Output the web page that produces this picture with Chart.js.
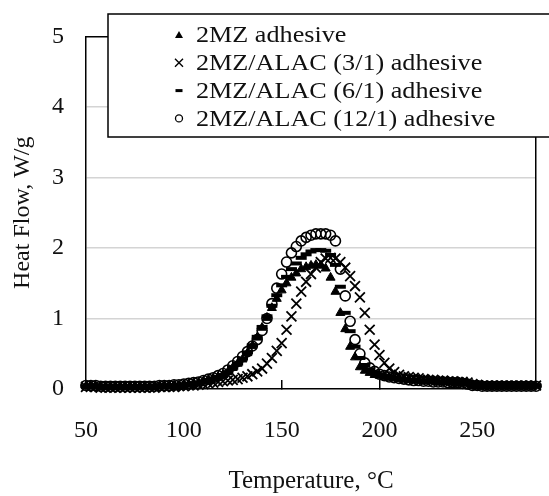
<!DOCTYPE html>
<html>
<head>
<meta charset="utf-8">
<script src="https://cdn.jsdelivr.net/npm/chart.js@4.4.0/dist/chart.umd.min.js"></script>
<style>
  html, body { margin: 0; padding: 0; background: #fff; overflow: hidden; }
  canvas { display: block; }
</style>
</head>
<body>
<canvas id="dscChart" width="549" height="496"></canvas>
<script>
// temperatures (°C) shared by all four DSC runs
const temps = [
    50, 52.5, 55, 57.5, 60, 62.5, 65, 67.5, 70, 72.5,
    75, 77.5, 80, 82.5, 85, 87.5, 90, 92.5, 95, 97.5,
    100, 102.5, 105, 107.5, 110, 112.5, 115, 117.5, 120, 122.5,
    125, 127.5, 130, 132.5, 135, 137.5, 140, 142.5, 145, 147.5,
    150, 152.5, 155, 157.5, 160, 162.5, 165, 167.5, 170, 172.5,
    175, 177.5, 180, 182.5, 185, 187.5, 190, 192.5, 195, 197.5,
    200, 202.5, 205, 207.5, 210, 212.5, 215, 217.5, 220, 222.5,
    225, 227.5, 230, 232.5, 235, 237.5, 240, 242.5, 245, 247.5,
    250, 252.5, 255, 257.5, 260, 262.5, 265, 267.5, 270, 272.5,
    275, 277.5, 280
];

// heat flow (W/g)
const flow2MZ = [
    0.04, 0.04, 0.04, 0.03, 0.03, 0.03, 0.03, 0.03, 0.03, 0.03,
    0.03, 0.03, 0.03, 0.03, 0.03, 0.04, 0.04, 0.04, 0.05, 0.05,
    0.06, 0.07, 0.08, 0.09, 0.11, 0.13, 0.15, 0.17, 0.20, 0.24,
    0.30, 0.36, 0.42, 0.51, 0.61, 0.73, 0.87, 1.01, 1.15, 1.28,
    1.40, 1.50, 1.58, 1.64, 1.70, 1.73, 1.75, 1.76, 1.75, 1.71,
    1.58, 1.38, 1.08, 0.85, 0.60, 0.45, 0.31, 0.26, 0.23, 0.20,
    0.19, 0.17, 0.16, 0.15, 0.14, 0.135, 0.13, 0.12, 0.12, 0.115,
    0.11, 0.11, 0.10, 0.10, 0.10, 0.09, 0.09, 0.09, 0.08, 0.06,
    0.05, 0.05, 0.04, 0.04, 0.04, 0.04, 0.04, 0.04, 0.04, 0.04,
    0.04, 0.04, 0.04
];
const flow3to1 = [
    0.03, 0.03, 0.03, 0.02, 0.02, 0.02, 0.02, 0.02, 0.02, 0.02,
    0.02, 0.02, 0.02, 0.02, 0.02, 0.03, 0.03, 0.03, 0.03, 0.04,
    0.04, 0.05, 0.05, 0.06, 0.07, 0.08, 0.09, 0.10, 0.11, 0.12,
    0.13, 0.14, 0.16, 0.18, 0.21, 0.25, 0.29, 0.36, 0.44, 0.54,
    0.65, 0.84, 1.03, 1.21, 1.38, 1.52, 1.63, 1.72, 1.80, 1.85,
    1.86, 1.85, 1.80, 1.72, 1.60, 1.46, 1.30, 1.08, 0.84, 0.63,
    0.48, 0.37, 0.29, 0.24, 0.20, 0.18, 0.17, 0.16, 0.15, 0.14,
    0.13, 0.13, 0.12, 0.12, 0.11, 0.11, 0.10, 0.10, 0.09, 0.07,
    0.06, 0.05, 0.05, 0.05, 0.05, 0.05, 0.05, 0.05, 0.05, 0.05,
    0.05, 0.05, 0.05
];
const flow6to1 = [
    0.04, 0.04, 0.04, 0.04, 0.03, 0.03, 0.03, 0.03, 0.03, 0.03,
    0.03, 0.03, 0.03, 0.03, 0.03, 0.04, 0.04, 0.04, 0.05, 0.05,
    0.06, 0.07, 0.08, 0.09, 0.11, 0.13, 0.15, 0.17, 0.20, 0.24,
    0.30, 0.36, 0.43, 0.52, 0.62, 0.74, 0.88, 1.03, 1.18, 1.33,
    1.47, 1.59, 1.70, 1.78, 1.86, 1.91, 1.95, 1.97, 1.97, 1.96,
    1.90, 1.76, 1.45, 1.08, 0.82, 0.60, 0.44, 0.34, 0.28, 0.24,
    0.21, 0.19, 0.17, 0.16, 0.15, 0.14, 0.135, 0.13, 0.12, 0.12,
    0.11, 0.11, 0.11, 0.10, 0.10, 0.10, 0.09, 0.09, 0.08, 0.06,
    0.05, 0.05, 0.05, 0.05, 0.05, 0.05, 0.05, 0.05, 0.05, 0.05,
    0.05, 0.05, 0.05
];
const flow12to1 = [
    0.05, 0.05, 0.05, 0.04, 0.04, 0.04, 0.04, 0.04, 0.04, 0.04,
    0.04, 0.04, 0.04, 0.04, 0.04, 0.05, 0.05, 0.05, 0.06, 0.06,
    0.07, 0.08, 0.09, 0.10, 0.12, 0.14, 0.16, 0.19, 0.22, 0.27,
    0.33, 0.39, 0.46, 0.53, 0.61, 0.70, 0.83, 1.00, 1.21, 1.43,
    1.63, 1.80, 1.93, 2.02, 2.10, 2.15, 2.18, 2.20, 2.20, 2.20,
    2.18, 2.10, 1.70, 1.32, 0.96, 0.70, 0.50, 0.37, 0.30, 0.25,
    0.21, 0.19, 0.17, 0.16, 0.15, 0.14, 0.13, 0.12, 0.12, 0.11,
    0.11, 0.10, 0.10, 0.10, 0.09, 0.09, 0.09, 0.08, 0.07, 0.05,
    0.05, 0.04, 0.04, 0.04, 0.04, 0.04, 0.04, 0.04, 0.04, 0.04,
    0.04, 0.04, 0.04
];

const seriesNames = [
    '2MZ adhesive',
    '2MZ/ALAC (3/1) adhesive',
    '2MZ/ALAC (6/1) adhesive',
    '2MZ/ALAC (12/1) adhesive'
];
const xTickLabels = [50, 100, 150, 200, 250];
const yTickLabels = [0, 1, 2, 3, 4, 5];

const serif = "'Liberation Serif', 'Times New Roman', serif";

function toPoints(ys) {
    return temps.map((t, i) => ({ x: t, y: ys[i] }));
}

// little legend symbols, drawn by hand
function drawMark(ctx, kind, x, y) {
    ctx.save();
    ctx.fillStyle = '#000';
    ctx.strokeStyle = '#000';
    ctx.beginPath();
    if (kind === 'triangle') {
        ctx.moveTo(x, y - 4);
        ctx.lineTo(x + 4, y + 3);
        ctx.lineTo(x - 4, y + 3);
        ctx.closePath();
        ctx.fill();
    } else if (kind === 'crossRot') {
        ctx.lineWidth = 1.4;
        ctx.moveTo(x - 4, y - 4); ctx.lineTo(x + 4, y + 4);
        ctx.moveTo(x + 4, y - 4); ctx.lineTo(x - 4, y + 4);
        ctx.stroke();
    } else if (kind === 'line') {
        ctx.fillRect(x - 3.5, y - 1.5, 7, 3);
    } else {
        ctx.lineWidth = 1.3;
        ctx.arc(x, y, 3.5, 0, Math.PI * 2);
        ctx.stroke();
    }
    ctx.restore();
}

// boxed legend that sits over the top of the plot
const boxLegend = {
    id: 'boxLegend',
    afterDraw(chart) {
        const ctx = chart.ctx;
        const styles = chart.data.datasets.map(d => d.pointStyle);
        ctx.save();
        ctx.fillStyle = '#fff';
        ctx.fillRect(108, 14, 460, 123);
        ctx.strokeStyle = '#000';
        ctx.lineWidth = 1.5;
        ctx.strokeRect(108, 14, 460, 123);
        ctx.font = '24px ' + serif;
        ctx.textBaseline = 'middle';
        seriesNames.forEach((name, i) => {
            const y = 35 + i * 27.8;
            drawMark(ctx, styles[i], 179, y);
            // the source picture is a little wider than tall, stretch the text to match
            ctx.save();
            ctx.translate(196, y + 1);
            ctx.scale(1.09, 1);
            ctx.fillStyle = '#111';
            ctx.fillText(name, 0, 0);
            ctx.restore();
        });
        ctx.restore();
    }
};

// empty axes on top and right, only there to close the frame
const frameAxis = (position, fitKey) => ({
    type: 'linear',
    position: position,
    min: 0,
    max: 1,
    display: true,
    afterFit(s) { s[fitKey] = 0; },
    ticks: { display: false },
    grid: { display: false, drawTicks: false },
    border: { display: true, color: '#000', width: 1.5 }
});

const ctx = document.getElementById('dscChart').getContext('2d');
new Chart(ctx, {
    type: 'scatter',
    data: {
        datasets: [{
            label: seriesNames[0],
            data: toPoints(flow2MZ),
            pointStyle: 'triangle',
            pointRadius: 5.2,
            backgroundColor: '#000',
            borderColor: '#000',
            borderWidth: 1
        }, {
            label: seriesNames[1],
            data: toPoints(flow3to1),
            pointStyle: 'crossRot',
            pointRadius: 7,
            backgroundColor: '#000',
            borderColor: '#000',
            borderWidth: 1.8
        }, {
            label: seriesNames[2],
            data: toPoints(flow6to1),
            pointStyle: 'line',
            pointRadius: 5.5,
            backgroundColor: '#000',
            borderColor: '#000',
            borderWidth: 4
        }, {
            label: seriesNames[3],
            data: toPoints(flow12to1),
            pointStyle: 'circle',
            pointRadius: 5,
            backgroundColor: 'rgba(0,0,0,0)',
            borderColor: '#000',
            borderWidth: 1.6
        }]
    },
    options: {
        responsive: false,
        animation: false,
        clip: false,
        layout: { padding: { left: 0, top: 31, right: 13, bottom: 0 } },
        plugins: {
            legend: { display: false },
            tooltip: { enabled: false }
        },
        scales: {
            x: {
                type: 'linear',
                min: 50,
                max: 280,
                afterBuildTicks(s) { s.ticks = xTickLabels.map(v => ({ value: v })); },
                afterFit(s) {
                    s.height = 107;
                    s.paddingLeft = 0;
                    s.paddingRight = 0;
                },
                ticks: {
                    autoSkip: false,
                    maxRotation: 0,
                    padding: 36,
                    color: '#111',
                    font: { family: serif, size: 24 }
                },
                grid: {
                    display: true,
                    drawOnChartArea: false,
                    drawTicks: true,
                    tickLength: -9,
                    color: '#000',
                    lineWidth: 1.5
                },
                border: { display: true, color: '#000', width: 1.5 },
                title: {
                    display: true,
                    text: 'Temperature, °C',
                    color: '#111',
                    font: { family: serif, size: 25 },
                    padding: { top: 0, bottom: 0 }
                }
            },
            y: {
                min: 0,
                max: 5,
                afterBuildTicks(s) { s.ticks = yTickLabels.map(v => ({ value: v })); },
                afterFit(s) { s.width = 86; },
                ticks: {
                    padding: 22,
                    color: '#111',
                    font: { family: serif, size: 24 }
                },
                grid: {
                    drawTicks: false,
                    color: c => (c.tick && c.tick.value > 0 && c.tick.value < 5) ? '#d4d4d4' : 'rgba(0,0,0,0)',
                    lineWidth: 1.5
                },
                border: { display: true, color: '#000', width: 1.5 },
                title: {
                    display: true,
                    text: 'Heat Flow, W/g',
                    color: '#111',
                    font: { family: serif, size: 24 },
                    padding: { top: 8, bottom: 0 }
                }
            },
            xTop: frameAxis('top', 'height'),
            yRight: frameAxis('right', 'width')
        }
    },
    plugins: [boxLegend]
});
</script>
</body>
</html>
